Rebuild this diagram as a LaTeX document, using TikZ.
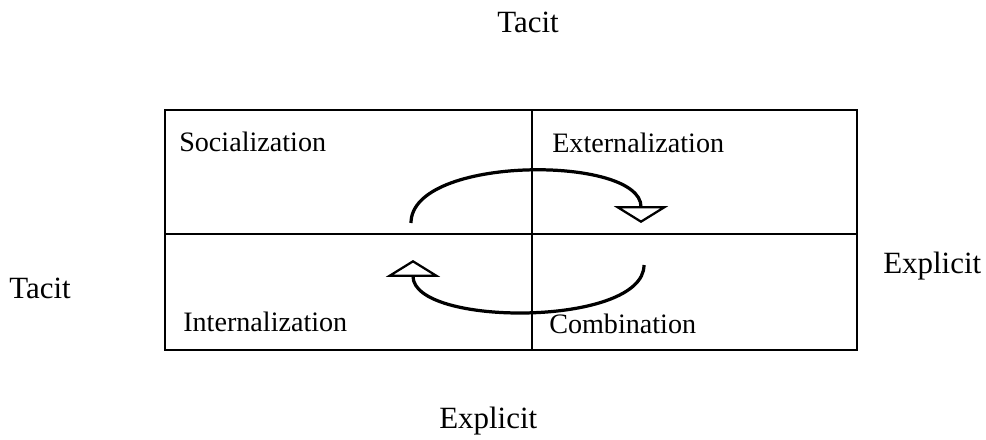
\documentclass[tikz,border=0pt]{standalone}
\usepackage{fontspec}
\setmainfont{Liberation Serif}
\usetikzlibrary{arrows.meta,positioning}

\tikzset{
    quad/.style={font=\fontsize{20}{24}\selectfont, inner sep=0pt, anchor=base west},
    axislabel/.style={quad, font=\fontsize{22}{26}\selectfont},
    frame/.style={line width=1.3pt},
    spiral/.style={line width=2.3pt, -{Triangle[open, length=0.42cm, width=1.35cm, line width=1.6pt]}}
}

\begin{document}
\begin{tikzpicture}[x=0.025cm, y=-0.025cm]
    \useasboundingbox (0,0) rectangle (986,440);

    % Matrix frame
    \coordinate (tl) at (165,110);
    \coordinate (br) at (857,350);
    \coordinate (ml) at (165,234);
    \coordinate (mr) at (857,234);
    \coordinate (mt) at (532,110);
    \coordinate (mb) at (532,350);
    \draw[frame] (tl) rectangle (br);
    \draw[frame] (ml) -- (mr);
    \draw[frame] (mt) -- (mb);

    % Quadrants
    \node[quad] (soc) at (179,151) {Socialization};
    \node[quad] (ext) at (552,152) {Externalization};
    \node[quad] (int) at (183,331) {Internalization};
    \node[quad] (com) at (549,333) {Combination};

    % Axis labels
    \node[axislabel] (tacitT) at (497,33) {Tacit};
    \node[axislabel] (tacitL) at (9,298) {Tacit};
    \node[axislabel] (explR) at (883,273) {Explicit};
    \node[axislabel] (explB) at (439,428) {Explicit};

    % Knowledge spiral
    \coordinate (s1) at (411,223);
    \coordinate (e1) at (641,223);
    \coordinate (s2) at (644,265);
    \coordinate (e2) at (413,260);
    \draw[spiral] (s1) .. controls (411,155) and (641,155) .. (e1);
    \draw[spiral] (s2) .. controls (644,327) and (413,327) .. (e2);
\end{tikzpicture}
\end{document}
